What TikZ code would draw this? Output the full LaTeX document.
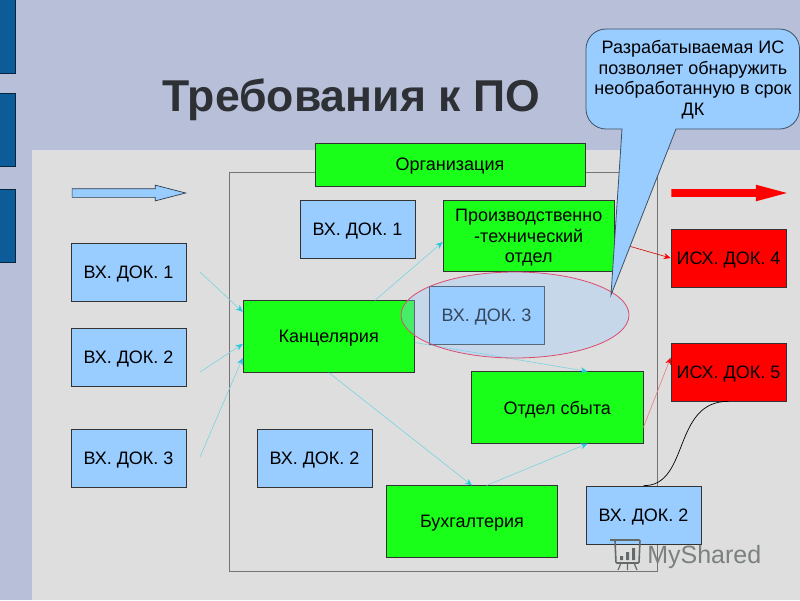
\documentclass[tikz,border=0pt]{standalone}
\usepackage{fontspec}
\setmainfont{Liberation Sans}
\usetikzlibrary{shapes,shapes.arrows,arrows,arrows.meta}
\definecolor{slidebg}{RGB}{184,191,217}
\definecolor{panelbg}{RGB}{222,222,222}
\definecolor{barblue}{RGB}{11,92,152}
\definecolor{docblue}{RGB}{153,204,255}
\definecolor{deptgreen}{RGB}{26,255,26}
\definecolor{linecyan}{RGB}{120,212,222}
\definecolor{tipcyan}{RGB}{40,200,220}
\definecolor{titledark}{RGB}{45,48,52}
\definecolor{markgrey}{RGB}{100,105,105}

\begin{document}
\begin{tikzpicture}[
      x = 1pt,
      y = -1pt,
      > = stealth,
      semithick,
      box/.style = {draw = black!80, line width = 0.7pt, inner sep = 0pt, align = center,
        text depth = 0pt, font = \fontsize{18}{20.5}\selectfont},
      docbox/.style = {box, fill = docblue, minimum width = 115pt, minimum height = 58pt},
      deptbox/.style = {box, fill = deptgreen, minimum width = 171.5pt, minimum height = 71.5pt},
      outbox/.style = {box, fill = red, minimum width = 115pt, minimum height = 58pt},
      flow/.style = {-{Stealth[length = 7pt, width = 6pt, color = tipcyan]}, linecyan, line width = 0.6pt},
      outflow/.style = {-{Stealth[length = 7pt, width = 6pt, color = red]}, red!85!black, line width = 0.6pt},
      bar/.style = {draw = black!60!barblue, line width = 0.6pt, fill = barblue}]

      % background
      \useasboundingbox (0,0) rectangle (800,600);
      \fill[slidebg] (0,0) rectangle (800,600);
      \fill[panelbg] (32,150) rectangle (800,600);
      \draw[bar] (-2,-2) rectangle (15,73);
      \draw[bar] (-2,93) rectangle (15,166);
      \draw[bar] (-2,189) rectangle (15,262);
      \node[font = \bfseries\fontsize{44.6}{46}\selectfont, text = titledark, anchor = base west, inner sep = 0pt] (title) at (162,111) {Требования к ПО};

      \draw[black!55, line width = 0.7pt] (229,172) rectangle (657,571);

      \node[single arrow, draw = black!70!docblue, fill = docblue, line width = 0.7pt, inner sep = 4pt,
        minimum height = 113.5pt, single arrow head extend = 3.5pt,
        single arrow tip angle = 29, anchor = tip] (inarrow) at (187,193) {};
      \node[single arrow, fill = red, inner sep = 3.5pt,
        minimum height = 115.5pt, single arrow head extend = 4.5pt,
        single arrow tip angle = 30, anchor = tip] (outarrow) at (788,193) {};

      % documents and departments
      \node[docbox] (in1) at (128.5,272) {ВХ. ДОК. 1};
      \node[docbox] (in2) at (128.5,357) {ВХ. ДОК. 2};
      \node[docbox] (in3) at (128.5,458) {ВХ. ДОК. 3};
      \node[box, fill = deptgreen, minimum width = 270pt, minimum height = 43pt] (org) at (450,164.5) {Организация};
      \node[docbox] (mid1) at (357.5,229) {ВХ. ДОК. 1};
      \node[docbox] (mid2) at (314.5,458) {ВХ. ДОК. 2};
      \node[docbox] (mid3) at (486.5,315) {ВХ. ДОК. 3};
      \node[docbox] (right2) at (643.5,515) {ВХ. ДОК. 2};
      \node[deptbox] (prod) at (528.75,236) {Производственно\\-технический\\отдел};
      \node[deptbox] (kanc) at (328.75,336.5) {Канцелярия};
      \node[deptbox] (sale) at (557.25,407.5) {Отдел сбыта};
      \node[deptbox] (buh) at (472,521.5) {Бухгалтерия};
      \node[outbox] (out4) at (728.5,258) {ИСХ. ДОК. 4};
      \node[outbox] (out5) at (728.5,372) {ИСХ. ДОК. 5};

      \coordinate (from1) at (200,272);
      \coordinate (from2) at (200,372);
      \coordinate (from3) at (200,457);
      \coordinate (tip) at (611,295);

      \path[flow] (from1) edge (kanc.164.6)
      (from2) edge (kanc.185)
      (from3) edge (kanc.194)
      (kanc.38.7) edge (prod.184.7)
      (kanc.-4.3) edge (sale.50.8)
      (kanc.south) edge (buh.north)
      (buh.68.5) edge (sale.-50.8);
      \path[outflow] (prod.-4.7) edge (out4.west)
      (sale.-13.4) edge [red!45!panelbg] (out5.166.3);
      \draw[black, line width = 0.7pt] (right2.north) .. controls (690,486) and (672,401) .. (out5.south);

      % ellipse goes over the boxes
      \node[ellipse, draw = red!60!violet!70, line width = 0.8pt, fill = docblue, fill opacity = 0.35,
        minimum width = 228pt, minimum height = 86pt, inner sep = 0pt] (area) at (515,315) {};

      % note
      \draw[draw = black!60!docblue, line width = 0.8pt, fill = docblue]
      (676,129) [rounded corners = 20pt] -- (799.5,129) -- (799.5,29) -- (586,29) -- (586,129)
      [sharp corners] -- (622,129) -- (tip) -- cycle;
      \node[align = center, inner sep = 0pt, font = \fontsize{18}{20.5}\selectfont] (note) at (693,79.5)
      {Разрабатываемая ИС\\позволяет обнаружить\\необработанную в срок\\ДК};

      % watermark
      \draw[markgrey, line width = 1.6pt, rounded corners = 1pt] (610,540) -- (640,540) -- (639,563) -- (616,563) -- (615,541);
      \fill[markgrey] (620,556) rectangle (623,560) (626,552) rectangle (629,560) (632,548) rectangle (635,560);
      \draw[markgrey, line width = 1.2pt] (621,563) -- (618,570) (634,563) -- (637,570) (627.5,563) -- (627.5,570);
      \node[text = markgrey!85, font = \fontsize{25}{25}\selectfont, anchor = base west, inner sep = 0pt] (mark) at (647,563) {MyShared};
\end{tikzpicture}
\end{document}
